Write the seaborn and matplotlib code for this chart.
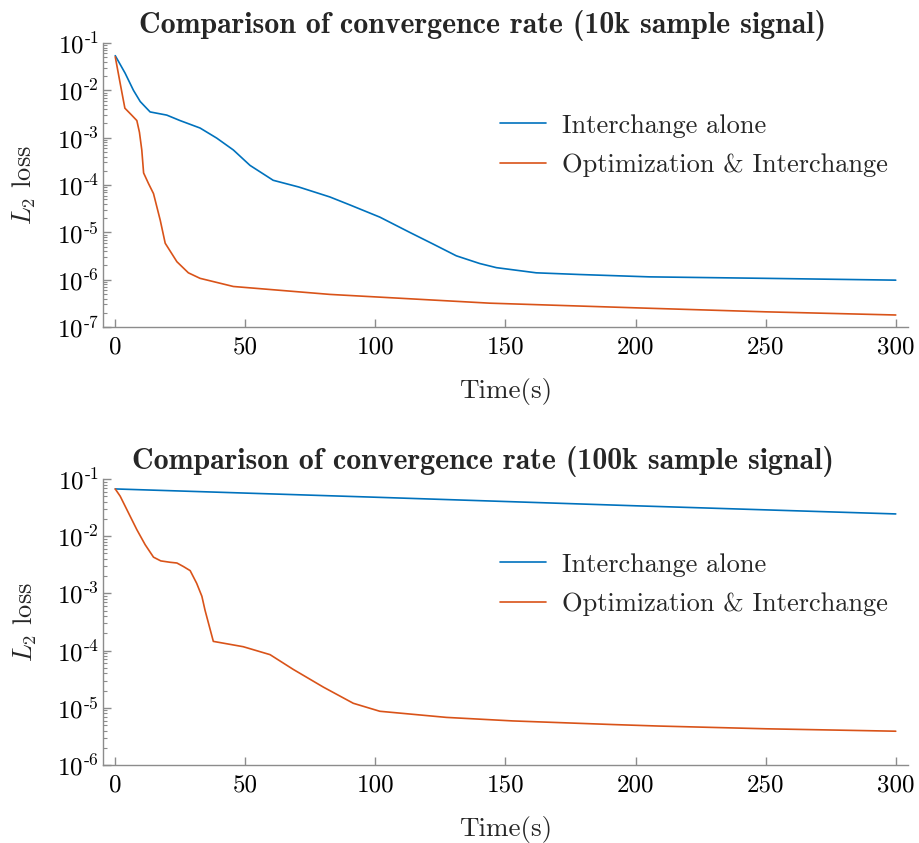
import numpy as np
import pandas as pd
import matplotlib
matplotlib.use("Agg")
import matplotlib.pyplot as plt
import matplotlib.ticker as mticker
import seaborn as sns

# ── data ────────────────────────────────────────────────────────
TIME_10K_INTER = [0, 3.8, 7.0, 9.6, 11.5, 13.4, 19.8, 24.9, 32.6, 39.0, 45.4, 51.8, 60.7,
                  70.5, 82.5, 90.2, 101.7, 113.2, 122.1, 131.1, 140.1, 146.5, 161.8,
                  178.4, 205.3, 250, 300]
LOSS_10K_INTER = [5.4e-2, 2.3e-2, 1.0e-2, 5.8e-3, 4.5e-3, 3.5e-3, 3.0e-3, 2.3e-3, 1.6e-3,
                  9.8e-4, 5.5e-4, 2.6e-4, 1.26e-4, 9.1e-5, 5.6e-5, 3.8e-5, 2.1e-5, 1.0e-5,
                  5.7e-6, 3.2e-6, 2.2e-6, 1.8e-6, 1.4e-6, 1.29e-6, 1.15e-6, 1.07e-6, 9.8e-7]

TIME_10K_OPT = [0, 1.9, 3.7, 6.3, 8.3, 9.3, 10.2, 10.9, 12.8, 14.7, 17.3, 19.2, 23.7, 28.1,
                32.6, 45.4, 82.5, 143.9, 205, 250, 300]
LOSS_10K_OPT = [5.1e-2, 1.4e-2, 4.2e-3, 3.0e-3, 2.3e-3, 1.3e-3, 5.5e-4, 1.8e-4, 1.07e-4,
                6.6e-5, 1.8e-5, 5.9e-6, 2.4e-6, 1.4e-6, 1.07e-6, 7.2e-7, 4.9e-7, 3.2e-7,
                2.5e-7, 2.1e-7, 1.8e-7]

TIME_100K_INTER = [0, 100, 200, 300]
LOSS_100K_INTER = [6.7e-2, 4.8e-2, 3.4e-2, 2.45e-2]

TIME_100K_OPT = [0, 1.9, 8.3, 11.5, 14.7, 17.5, 21.1, 23.7, 26.2, 28.8, 31.3, 33.3, 34.5,
                 37.7, 49.2, 59.5, 68.4, 80, 91.5, 101.7, 127.3, 152.8, 191.2, 209, 250, 300]
LOSS_100K_OPT = [6.7e-2, 5.0e-2, 1.3e-2, 7.1e-3, 4.3e-3, 3.7e-3, 3.5e-3, 3.4e-3, 2.95e-3,
                 2.5e-3, 1.5e-3, 8.9e-4, 5.1e-4, 1.45e-4, 1.17e-4, 8.5e-5, 4.7e-5, 2.3e-5,
                 1.2e-5, 8.7e-6, 6.8e-6, 5.9e-6, 5.1e-6, 4.8e-6, 4.3e-6, 3.9e-6]

SERIES = ["Interchange alone", "Optimization & Interchange"]
TITLES = ["Comparison of convergence rate (10k sample signal)",
          "Comparison of convergence rate (100k sample signal)"]
X_TICKS = [0, 50, 100, 150, 200, 250, 300]

PALETTE = {SERIES[0]: "#0072BD", SERIES[1]: "#D95319"}
AXIS_GRAY = "#8c8c8c"

sns.set_theme(style="ticks")
plt.rcParams["font.family"] = ["cmr10", "DejaVu Serif"]
plt.rcParams["mathtext.fontset"] = "cm"
plt.rcParams["axes.formatter.use_mathtext"] = True
plt.rcParams["axes.unicode_minus"] = False


def long_form(t_a, l_a, t_b, l_b):
    a = pd.DataFrame({"time": t_a, "loss": l_a, "method": SERIES[0]})
    b = pd.DataFrame({"time": t_b, "loss": l_b, "method": SERIES[1]})
    return pd.concat([a, b], ignore_index=True)


panels = [
    (long_form(TIME_10K_INTER, LOSS_10K_INTER, TIME_10K_OPT, LOSS_10K_OPT), -7, 0.8274),
    (long_form(TIME_100K_INTER, LOSS_100K_INTER, TIME_100K_OPT, LOSS_100K_OPT), -6, 0.3066),
]

fig = plt.figure(figsize=(9.19, 8.43), dpi=100)
ax_top = fig.add_axes([0.1121, 0.612, 0.8759, 0.337])
ax_bot = fig.add_axes([0.1121, 0.0925, 0.8759, 0.3393])

for ax, (df, low_exp, leg_y), title in zip([ax_top, ax_bot], panels, TITLES):
    sns.lineplot(data=df, x="time", y="loss", hue="method", palette=PALETTE,
                 linewidth=1.2, ax=ax, legend=False, sort=False, estimator=None)
    ax.set_yscale("log")
    ax.set_ylim(10.0 ** low_exp, 1e-1)
    ax.set_xlim(-4.7, 304.7)
    ax.set_xticks(X_TICKS)
    ax.set_xticklabels([str(t) for t in X_TICKS])
    ax.xaxis.set_minor_locator(mticker.NullLocator())
    ax.yaxis.set_major_locator(mticker.LogLocator(base=10, numticks=20))
    ax.yaxis.set_minor_locator(mticker.LogLocator(base=10, subs=np.arange(2, 10), numticks=20))
    ax.yaxis.set_major_formatter(mticker.FuncFormatter(
        lambda v, p: r"$10^{\text{-}%d}$" % round(-np.log10(v))))
    ax.yaxis.set_minor_formatter(mticker.NullFormatter())

    for side in ["top", "right"]:
        ax.spines[side].set_visible(False)
    for side in ["left", "bottom"]:
        ax.spines[side].set_color(AXIS_GRAY)
        ax.spines[side].set_linewidth(1.0)
    ax.tick_params(which="major", direction="in", length=6, width=1.0, color=AXIS_GRAY,
                   labelsize=18, labelcolor="black")
    ax.tick_params(which="minor", direction="in", length=3, width=0.8, color=AXIS_GRAY)
    ax.tick_params(axis="x", pad=7)
    ax.tick_params(axis="y", pad=3)

    ax.set_title(title, fontfamily="cmb10", fontsize=21.5, x=0.472, pad=7)
    ax.set_xlabel("Time(s)", fontsize=19.5, labelpad=14)
    ax.set_ylabel(r"$L_2$ loss", fontsize=19, labelpad=13)
    ax.set_facecolor("white")

    handles = [plt.Line2D([], [], color=PALETTE[s], linewidth=1.2) for s in SERIES]
    ax.legend(handles, SERIES, loc="center left", bbox_to_anchor=(0.544, leg_y),
              bbox_transform=fig.transFigure, frameon=False, fontsize=19,
              handlelength=1.75, handletextpad=0.6, labelspacing=0.6,
              borderpad=0, borderaxespad=0)

fig.savefig("out.png", dpi=100, facecolor="white")
